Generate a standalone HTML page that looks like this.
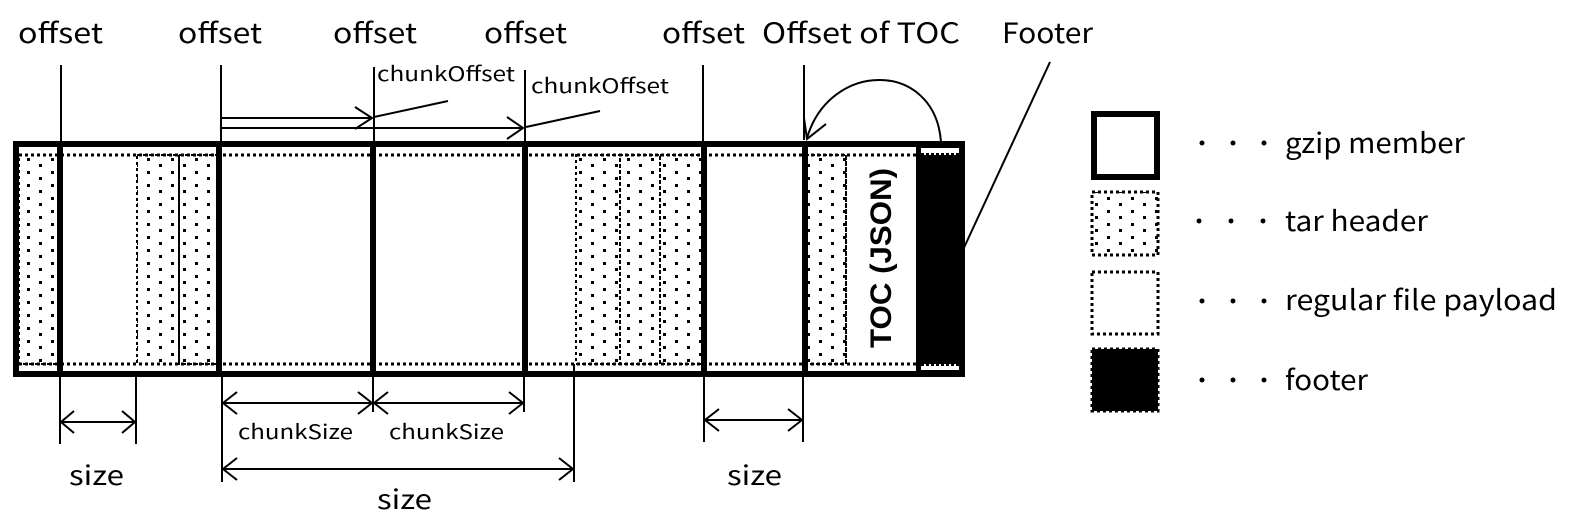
<!DOCTYPE html>
<html><head><meta charset="utf-8"><style>
html,body{margin:0;padding:0;background:#fff;}
svg{display:block;}
text{font-family:"Liberation Sans","Noto Sans CJK JP",sans-serif;fill:#000;}
.j{font-family:"Noto Sans CJK JP","Liberation Sans",sans-serif;}
</style></head><body>
<svg width="1576" height="527" viewBox="0 0 1576 527" xmlns="http://www.w3.org/2000/svg">
<defs>
<pattern id="dots" width="24" height="13" patternUnits="userSpaceOnUse">
<rect x="3" y="2" width="3" height="3" fill="#000"/>
<rect x="15" y="8" width="3" height="3" fill="#000"/>
</pattern>
</defs>
<g class="j" font-size="28">
<text class="j" x="18" y="43" textLength="85" lengthAdjust="spacingAndGlyphs">offset</text>
<text class="j" x="178" y="43" textLength="84" lengthAdjust="spacingAndGlyphs">offset</text>
<text class="j" x="333" y="43" textLength="84" lengthAdjust="spacingAndGlyphs">offset</text>
<text class="j" x="484" y="43" textLength="83" lengthAdjust="spacingAndGlyphs">offset</text>
<text class="j" x="662" y="43" textLength="83" lengthAdjust="spacingAndGlyphs">offset</text>
<text class="j" x="762" y="43" textLength="198" lengthAdjust="spacingAndGlyphs">Offset of TOC</text>
<text class="j" x="1002" y="43" textLength="91" lengthAdjust="spacingAndGlyphs">Footer</text>
</g>
<g class="j" font-size="20">
<text class="j" x="377" y="81" textLength="138" lengthAdjust="spacingAndGlyphs">chunkOffset</text>
<text class="j" x="531" y="93" textLength="138" lengthAdjust="spacingAndGlyphs">chunkOffset</text>
</g>
<g fill="url(#dots)" stroke="#000" stroke-width="2" stroke-dasharray="3,3">
<rect x="19" y="155" width="40" height="209"/>
<rect x="137" y="155" width="42" height="209"/>
<rect x="179" y="155" width="40" height="209"/>
<rect x="576" y="155" width="44" height="209"/>
<rect x="620" y="155" width="40" height="209"/>
<rect x="660" y="155" width="42" height="209"/>
<rect x="806" y="155" width="40" height="209"/>
</g>
<g stroke="#000" stroke-width="3" stroke-dasharray="3,3" fill="none">
<line x1="19" y1="155" x2="916" y2="155"/>
<line x1="19" y1="364" x2="916" y2="364"/>
<line x1="846" y1="155" x2="846" y2="364" stroke-width="2"/>
</g>
<rect x="916" y="144" width="46" height="230" fill="#000"/>
<rect x="921" y="148" width="38" height="7" fill="#fff"/>
<rect x="921" y="364" width="38" height="6" fill="#fff"/>
<line x1="921" y1="154" x2="959" y2="154" stroke="#000" stroke-width="2" stroke-dasharray="3,2"/>
<line x1="921" y1="365" x2="959" y2="365" stroke="#000" stroke-width="2" stroke-dasharray="3,2"/>
<rect x="16" y="144" width="946" height="230" fill="none" stroke="#000" stroke-width="6"/>
<g stroke="#000" stroke-width="6">
<line x1="60" y1="144" x2="60" y2="374"/>
<line x1="219" y1="144" x2="219" y2="374"/>
<line x1="373" y1="144" x2="373" y2="374"/>
<line x1="525" y1="144" x2="525" y2="374"/>
<line x1="704" y1="144" x2="704" y2="374"/>
<line x1="805" y1="144" x2="805" y2="374"/>
</g>
<text x="0" y="0" font-size="30" font-weight="bold" transform="translate(891,348) rotate(-90)" textLength="180" lengthAdjust="spacingAndGlyphs">TOC (JSON)</text>
<g stroke="#000" stroke-width="2" fill="none">
<line x1="61" y1="65" x2="61" y2="142"/>
<line x1="221" y1="65" x2="221" y2="142"/>
<line x1="374" y1="67" x2="374" y2="142"/>
<line x1="525" y1="70" x2="525" y2="142"/>
<line x1="703" y1="65" x2="703" y2="142"/>
<line x1="804" y1="65" x2="804" y2="140"/>
<line x1="222" y1="118" x2="372" y2="118"/>
<polyline points="355,107 372,118 355,129"/>
<line x1="222" y1="128" x2="523" y2="128"/>
<polyline points="507,117 523,128 507,139"/>
<line x1="374" y1="117" x2="448" y2="101"/>
<line x1="526" y1="127" x2="600" y2="111"/>
<path d="M941,142 C935,60 830,60 807,138"/>
<polyline points="804,118 807,139 826,124"/>
<line x1="1050" y1="62" x2="962" y2="252"/>
<line x1="60" y1="376" x2="60" y2="444"/>
<line x1="136" y1="376" x2="136" y2="444"/>
<line x1="222" y1="376" x2="222" y2="482"/>
<line x1="373" y1="376" x2="373" y2="412"/>
<line x1="524" y1="376" x2="524" y2="412"/>
<line x1="574" y1="364" x2="574" y2="482"/>
<line x1="704" y1="376" x2="704" y2="442"/>
<line x1="803" y1="376" x2="803" y2="442"/>
<line x1="61" y1="422" x2="135" y2="422"/>
<polyline points="74,411 61,422 74,433"/><polyline points="122,411 135,422 122,433"/>
<line x1="223" y1="403" x2="372" y2="403"/>
<polyline points="237,392 223,403 237,414"/><polyline points="358,392 372,403 358,414"/>
<line x1="374" y1="403" x2="523" y2="403"/>
<polyline points="388,392 374,403 388,414"/><polyline points="509,392 523,403 509,414"/>
<line x1="223" y1="469" x2="573" y2="469"/>
<polyline points="237,458 223,469 237,480"/><polyline points="559,458 573,469 559,480"/>
<line x1="705" y1="420" x2="802" y2="420"/>
<polyline points="719,409 705,420 719,431"/><polyline points="788,409 802,420 788,431"/>
</g>
<text class="j" x="238" y="439" font-size="20" textLength="115" lengthAdjust="spacingAndGlyphs">chunkSize</text>
<text class="j" x="389" y="439" font-size="20" textLength="115" lengthAdjust="spacingAndGlyphs">chunkSize</text>
<text class="j" x="69" y="485" font-size="27" textLength="55" lengthAdjust="spacingAndGlyphs">size</text>
<text class="j" x="377" y="509" font-size="27" textLength="55" lengthAdjust="spacingAndGlyphs">size</text>
<text class="j" x="727" y="485" font-size="27" textLength="55" lengthAdjust="spacingAndGlyphs">size</text>
<rect x="1094" y="114" width="63" height="63" fill="none" stroke="#000" stroke-width="6"/>
<rect x="1092" y="192" width="66" height="63" fill="url(#dots)" stroke="#000" stroke-width="3" stroke-dasharray="3,3"/>
<rect x="1092" y="272" width="66" height="62" fill="none" stroke="#000" stroke-width="3" stroke-dasharray="3,3"/>
<rect x="1092" y="349" width="66" height="62" fill="#000" stroke="#000" stroke-width="3" stroke-dasharray="3,3"/>
<g fill="#000">
<circle cx="1202" cy="143" r="2.5"/><circle cx="1233" cy="143" r="2.5"/><circle cx="1264" cy="143" r="2.5"/>
<circle cx="1199" cy="221" r="2.5"/><circle cx="1231" cy="221" r="2.5"/><circle cx="1263" cy="221" r="2.5"/>
<circle cx="1202" cy="301" r="2.5"/><circle cx="1233" cy="301" r="2.5"/><circle cx="1264" cy="301" r="2.5"/>
<circle cx="1202" cy="380" r="2.5"/><circle cx="1233" cy="380" r="2.5"/><circle cx="1264" cy="380" r="2.5"/>
</g>
<g font-size="28">
<text class="j" x="1285" y="153" textLength="180" lengthAdjust="spacingAndGlyphs">gzip member</text>
<text class="j" x="1285" y="231" textLength="143" lengthAdjust="spacingAndGlyphs">tar header</text>
<text class="j" x="1285" y="310" textLength="272" lengthAdjust="spacingAndGlyphs">regular file payload</text>
<text class="j" x="1285" y="390" textLength="83" lengthAdjust="spacingAndGlyphs">footer</text>
</g>
</svg>
</body></html>
